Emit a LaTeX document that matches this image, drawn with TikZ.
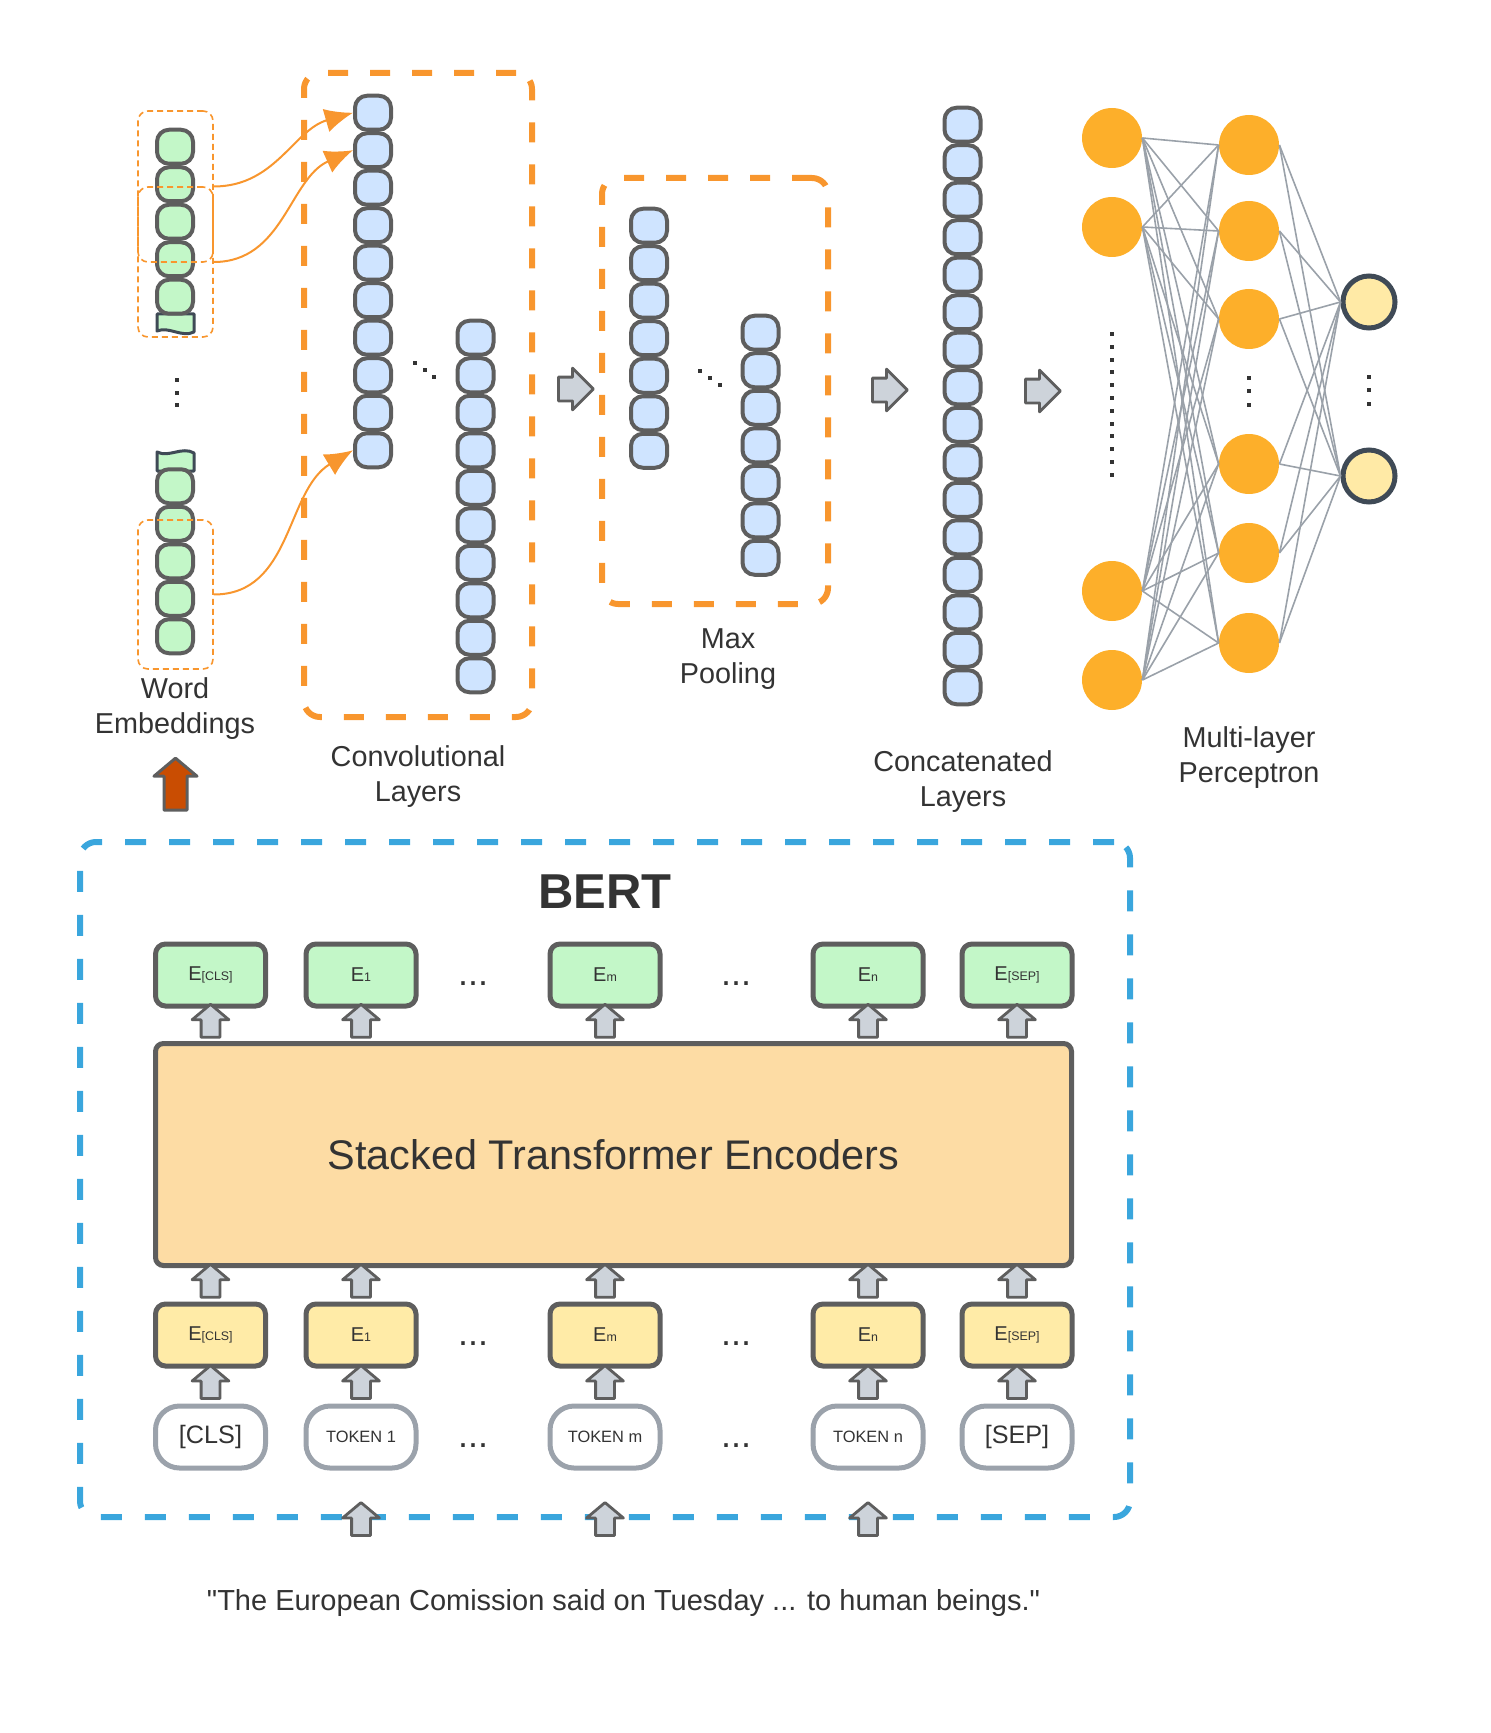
\documentclass[tikz,border=0pt]{standalone}
\usepackage{fontspec}
\setmainfont{Liberation Sans}
\newfontfamily\plainsf{Liberation Sans}
\usetikzlibrary{arrows.meta, shapes.arrows, calc}

\definecolor{bord}{HTML}{5E5E5E}
\definecolor{tornbd}{HTML}{3F4A56}
\definecolor{cgreen}{HTML}{C3F7C8}
\definecolor{cblue}{HTML}{CFE4FF}
\definecolor{orng}{HTML}{F8962E}
\definecolor{morng}{HTML}{FDAF2A}
\definecolor{oyel}{HTML}{FFEAA6}
\definecolor{eyel}{HTML}{FFEBA7}
\definecolor{stk}{HTML}{FDDCA4}
\definecolor{bblue}{HTML}{3AA6DD}
\definecolor{agrey}{HTML}{CDD3DA}
\definecolor{tokbd}{HTML}{9BA2AB}
\definecolor{wirec}{HTML}{9AA1A9}
\definecolor{brn}{HTML}{C94D02}
\definecolor{txt}{HTML}{333333}

\newcommand{\esub}[1]{E{\fontsize{6.2}{7}\selectfont #1}}

\tikzset{every picture/.style = {x=0.5pt, y=-0.5pt}}
\tikzset{cell/.style = {draw=bord, line width=2pt, rounded corners=6pt, inner sep=0pt, minimum width=18pt, minimum height=17pt}}
\tikzset{gcell/.style = {cell, fill=cgreen}}
\tikzset{bcell/.style = {cell, fill=cblue}}
\tikzset{tornpc/.style = {draw=tornbd, fill=cgreen, line width=1.5pt, line join=round}}
\tikzset{win/.style = {draw=orng, line width=0.8pt, dash pattern=on 3pt off 2pt, rounded corners=5pt, minimum width=37.5pt}}
\tikzset{stage/.style = {draw=orng, line width=3pt, dash pattern=on 10pt off 11pt, rounded corners=8pt}}
\tikzset{feed/.style = {draw=orng, line width=1pt, -{Latex[length=14pt, width=12pt]}}}
\tikzset{neur/.style = {fill=morng, circle, inner sep=0pt, minimum size=30pt}}
\tikzset{outn/.style = {draw=tornbd, fill=oyel, line width=2.5pt, circle, inner sep=0pt, minimum size=26pt}}
\tikzset{wire/.style = {draw=wirec, line width=0.8pt}}
\tikzset{lbl/.style = {text=txt, align=center, font=\fontsize{14.4}{17.5}\selectfont}}
\tikzset{ebox/.style = {draw=bord, line width=2.5pt, rounded corners=5pt, minimum width=55pt, minimum height=31pt, inner sep=0pt, text=txt, font=\fontsize{10}{12}\selectfont}}
\tikzset{tok/.style = {draw=tokbd, fill=white, line width=2.5pt, rounded corners=12pt, minimum width=55pt, minimum height=31pt, inner sep=0pt, text=txt}}
\tikzset{stbox/.style = {draw=bord, fill=stk, line width=2.5pt, rounded corners=4pt, minimum width=458pt, minimum height=111pt, text=txt, font=\fontsize{20.7}{24}\selectfont}}
\tikzset{bertbox/.style = {draw=bblue, line width=3pt, dash pattern=on 10.5pt off 11.5pt, rounded corners=8pt}}
\tikzset{uparr/.style = {single arrow, rotate=90, draw=bord, fill=agrey, line width=1.4pt, line join=round, inner xsep=0pt, inner ysep=4pt, single arrow head extend=4.5pt, minimum height=16.5pt, single arrow tip angle=100}}
\tikzset{rarr/.style = {single arrow, draw=bord, fill=agrey, line width=1.4pt, line join=round, inner xsep=0pt, inner ysep=5.25pt, single arrow head extend=4.5pt, minimum height=17.5pt}}
\tikzset{brarr/.style = {single arrow, rotate=90, draw=bord, fill=brn, line width=1.5pt, line join=round, inner xsep=0pt, inner ysep=5pt, single arrow head extend=5pt, minimum height=26pt, single arrow tip angle=100}}
\tikzset{edots/.style = {text=txt, anchor=base, font=\fontsize{18}{20}\selectfont}}

\begin{document}
\begin{tikzpicture}
  \useasboundingbox (0,0) rectangle (1491,1733);

  % word embeddings
  \draw[tornpc] (157,314) -- (157,331) .. controls (169,326) and (182,338) .. (194,332) -- (194,314) -- cycle;
  \foreach \i in {1,...,5}
    \node[gcell] (w1-\i) at (175, 146.75+37.5*\i-37.5) {};
  \draw[tornpc] (157,452) .. controls (169,458) and (182,446) .. (194,453) -- (194,471) -- (157,471) -- cycle;
  \foreach \i in {1,...,5}
    \node[gcell] (w2-\i) at (175, 486.25+37.5*\i-37.5) {};
  \node[win, minimum height=75.5pt] (win1) at (175.5,186.5) {};
  \node[win, minimum height=75pt] (win2) at (175.5,262) {};
  \node[win, minimum height=74.5pt] (win3) at (175.5,594.5) {};
  \foreach \y in {380,392.5,405}
    \fill[txt] (175,\y-2) rectangle ++(4,4);

  % convolutional layers
  \node[stage, minimum width=114pt, minimum height=322pt] (conv) at (418,395) {};
  \foreach \i in {1,...,10}
    \node[bcell] (cv1-\i) at (373, 112.75+37.5*\i-37.5) {};
  \foreach \i in {1,...,10}
    \node[bcell] (cv2-\i) at (475.5, 337.75+37.5*\i-37.5) {};
  \foreach \x/\y in {415/363,425/370,434/377}
    \fill[txt] (\x-1.8,\y-1.8) rectangle ++(3.6,3.6);
  \draw[feed] (win1.east) to[out=0, in=196] (cv1-1.west);
  \draw[feed] (win2.east) to[out=0, in=204] (cv1-2.west);
  \draw[feed] (win3.east) to[out=0, in=211] (cv1-10.west);

  % max pooling
  \node[stage, minimum width=113pt, minimum height=213pt] (pool) at (715,391) {};
  \foreach \i in {1,...,7}
    \node[bcell] (mp1-\i) at (649, 225.75+37.5*\i-37.5) {};
  \foreach \i in {1,...,7}
    \node[bcell] (mp2-\i) at (760.5, 332.75+37.5*\i-37.5) {};
  \foreach \x/\y in {700/371,710/378,720/385}
    \fill[txt] (\x-1.8,\y-1.8) rectangle ++(3.6,3.6);

  % concatenated
  \foreach \i in {1,...,16}
    \node[bcell] (cc-\i) at (962.5, 124.75+37.5*\i-37.5) {};

  \node[rarr] (ra1) at (570,389) {};
  \node[rarr] (ra2) at (884,390) {};
  \node[rarr] (ra3) at (1037,391) {};

  % perceptron
  \foreach \i/\y in {1/138,2/227,3/591,4/680}
    \node[neur] (in\i) at (1112,\y) {};
  \foreach \i/\y in {1/145,2/231,3/319,4/464,5/553,6/643}
    \node[neur] (h\i) at (1249,\y) {};
  \foreach \i/\y in {1/302,2/476}
    \node[outn] (o\i) at (1369,\y) {};
  \foreach \i in {1,...,4}
    \foreach \j in {1,...,6}
      \draw[wire] (in\i.east) -- (h\j.west);
  \foreach \j in {1,...,6}
    \foreach \k in {1,2}
      \draw[wire] (h\j.east) -- (o\k.west);
  \foreach \k in {0,...,11}
    \fill[txt] (1110,332+12.8*\k) rectangle ++(4,4);
  \foreach \k in {0,1,2}
    \fill[txt] (1247,376+13.3*\k) rectangle ++(4,4);
  \foreach \k in {0,1,2}
    \fill[txt] (1367,375+13.3*\k) rectangle ++(4,4);

  % labels
  \node[lbl] (lwe) at (175,709) {Word\\Embeddings};
  \node[lbl] (lcv) at (418,777) {Convolutional\\Layers};
  \node[lbl] (lmp) at (728,659) {Max\\Pooling};
  \node[lbl] (lcc) at (963,782) {Concatenated\\Layers};
  \node[lbl] (lml) at (1249,758) {Multi-layer\\Perceptron};
  \node[brarr] (up) at (175.5,789) {};

  % bert
  \node[bertbox, minimum width=525pt, minimum height=337.5pt] (bert) at (605,1179.5) {};
  \node[text=txt, font=\bfseries\fontsize{24.5}{28}\selectfont] (bt) at (605,892) {BERT};
  \node[stbox] (st) at (613.5,1154.5) {Stacked Transformer Encoders};
  \foreach \i/\x/\s in {1/210.5/{[CLS]},2/361/1,3/605/m,4/868/n,5/1017/{[SEP]}} {
    \node[ebox, fill=cgreen] (g\i) at (\x,975) {\esub{\s}};
    \node[ebox, fill=eyel] (y\i) at (\x,1335) {\esub{\s}};
  }
  \node[tok, font=\fontsize{12.6}{14}\selectfont] (t1) at (210.5,1437) {[CLS]};
  \node[tok, font=\fontsize{8.2}{10}\selectfont] (t2) at (361,1437) {TOKEN 1};
  \node[tok, font=\fontsize{8.2}{10}\selectfont] (t3) at (605,1437) {TOKEN m};
  \node[tok, font=\fontsize{8.2}{10}\selectfont] (t4) at (868,1437) {TOKEN n};
  \node[tok, font=\fontsize{12.6}{14}\selectfont] (t5) at (1017,1437) {[SEP]};
  \foreach \i in {1,...,5} {
    \node[uparr] (ua\i) at ($(g\i.south)!.5!(g\i.south |- st.north)$) {};
    \node[uparr] (ub\i) at ($(y\i.north)!.5!(y\i.north |- st.south)$) {};
    \node[uparr] (uc\i) at ($(t\i.north)!.5!(y\i.south)$) {};
  }
  \foreach \i in {2,3,4}
    \node[uparr] (ud\i) at ($(t\i.south |- bert.south)+(0,3)$) {};
  \foreach \y in {985,1345,1447} {
    \node[edots] (dl\y) at (473,\y) {...};
    \node[edots] (dr\y) at (736,\y) {...};
  }
  \node[text=txt, font=\plainsf\fontsize{14.5}{17}\selectfont] (sent) at (623.5,1603)
    {"The European Comission said on Tuesday ... to human beings."};
\end{tikzpicture}
\end{document}
